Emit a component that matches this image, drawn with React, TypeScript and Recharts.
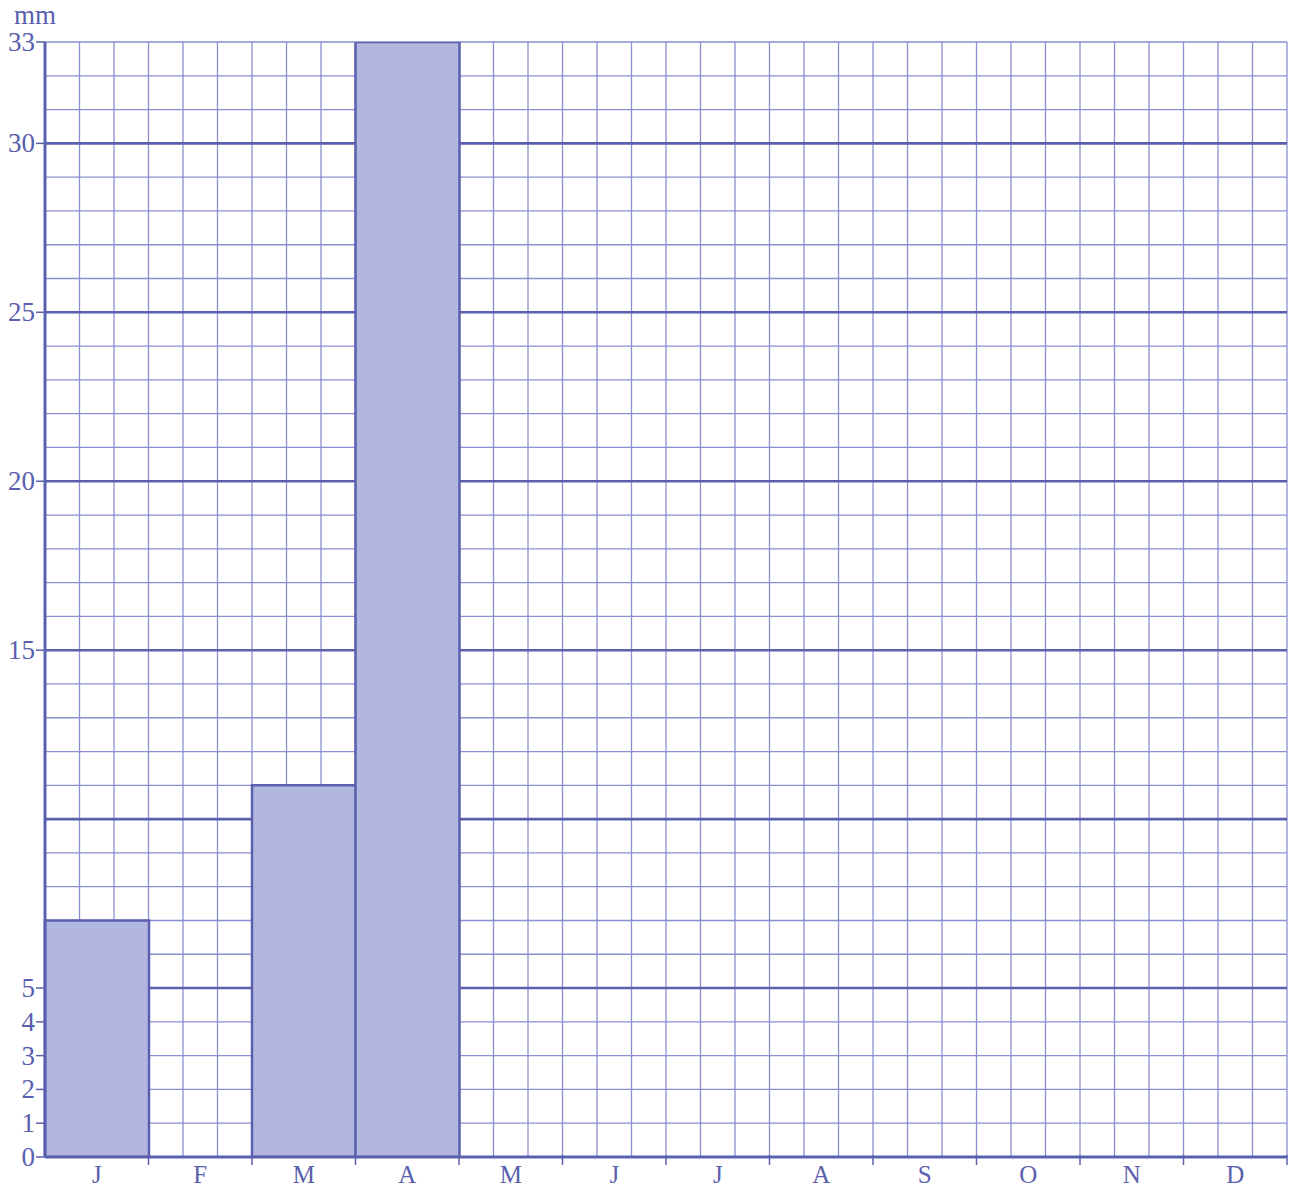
import React from "react";
import {
  BarChart,
  Bar,
  XAxis,
  YAxis,
  CartesianGrid,
} from "recharts";

const months = ["J", "F", "M", "A", "M", "J", "J", "A", "S", "O", "N", "D"];
const rainfall = [7, 0, 11, 33, 0, 0, 0, 0, 0, 0, 0, 0];
const yTicks = [0, 1, 2, 3, 4, 5, 15, 20, 25, 30, 33];
const majorRows = [5, 10, 15, 20, 25, 30];

// grid paper: 1 mm rows, 3 columns per month
const minorRows = Array.from({ length: 34 }, (_, i) => i);
const COLS_PER_MONTH = 3;

const data = months.map((m, i) => ({ month: m, mm: rainfall[i] }));

const W = 1290;
const H = 1191;
const LEFT = 45;
const RIGHT = 3;
const BAND = (W - LEFT - RIGHT) / months.length;

const ink = "#5a60ad";
const fine = "#8a8fd2";
const serif = "'Liberation Serif', 'DejaVu Serif', serif";

function MonthTick(props: any) {
  const { x, y, payload } = props;
  return (
    <g>
      <line
        x1={x + BAND / 2}
        x2={x + BAND / 2}
        y1={y - 2}
        y2={y + 8}
        stroke={ink}
        strokeWidth={1.5}
      />
      <text
        x={x}
        y={y + 26}
        textAnchor="middle"
        fill={ink}
        fontSize={25}
        fontFamily={serif}
      >
        {payload.value}
      </text>
    </g>
  );
}

function MmTick(props: any) {
  const { x, y, payload } = props;
  return (
    <text
      x={x}
      y={y + 9}
      textAnchor="end"
      fill={ink}
      fontSize={27}
      fontFamily={serif}
    >
      {payload.value}
    </text>
  );
}

const gridCols = ({ offset }: any) => {
  const n = months.length * COLS_PER_MONTH;
  return Array.from({ length: n + 1 }, (_, i) => offset.left + (i * offset.width) / n);
};

export default function App() {
  return (
    <div
      style={{
        position: "absolute",
        left: 0,
        top: 0,
        width: W,
        height: H,
        background: "#fff",
      }}
    >
      <div
        style={{
          position: "absolute",
          left: 14,
          top: 0,
          fontFamily: serif,
          fontSize: 27,
          color: ink,
        }}
      >
        mm
      </div>
      <BarChart
        width={W}
        height={H}
        data={data}
        margin={{ top: 42, right: RIGHT, bottom: 0, left: 0 }}
        barCategoryGap={0}
        barGap={0}
      >
        <CartesianGrid
          horizontalValues={minorRows}
          verticalCoordinatesGenerator={gridCols}
          stroke={fine}
          strokeWidth={1.3}
        />
        <CartesianGrid
          vertical={false}
          horizontalValues={majorRows}
          stroke={ink}
          strokeWidth={2.6}
        />
        <XAxis
          dataKey="month"
          height={34}
          tickSize={0}
          tickMargin={0}
          interval={0}
          axisLine={{ stroke: ink, strokeWidth: 3 }}
          tickLine={false}
          tick={<MonthTick />}
        />
        <YAxis
          width={LEFT}
          domain={[0, 33]}
          ticks={yTicks}
          interval={0}
          allowDataOverflow
          tickSize={9}
          tickMargin={1}
          axisLine={{ stroke: ink, strokeWidth: 3 }}
          tickLine={{ stroke: ink, strokeWidth: 1.5 }}
          tick={<MmTick />}
        />
        <Bar
          dataKey="mm"
          fill="#b2b7e0"
          stroke={ink}
          strokeWidth={2.5}
          isAnimationActive={false}
        />
      </BarChart>
    </div>
  );
}
